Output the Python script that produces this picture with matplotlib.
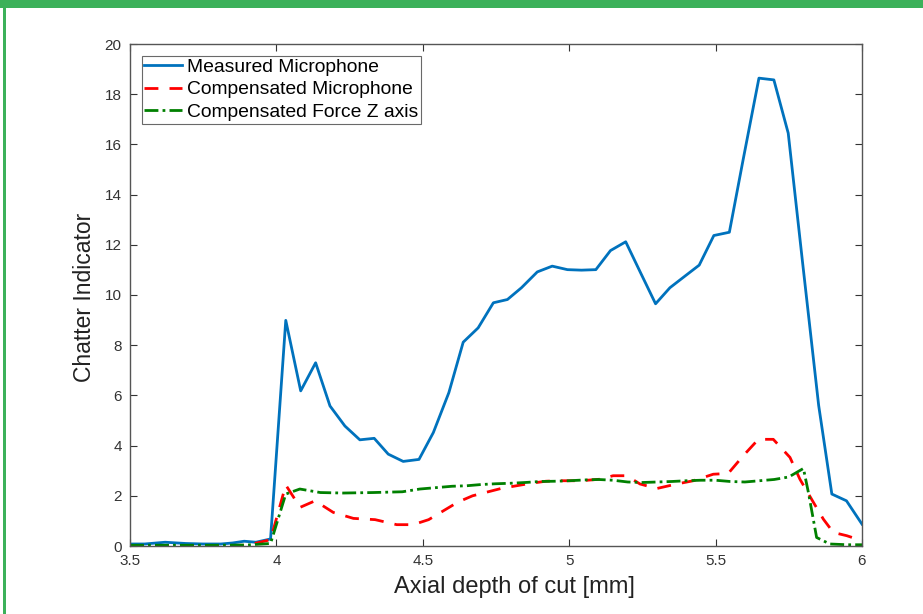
import matplotlib
matplotlib.use("Agg")
import matplotlib.pyplot as plt
from matplotlib.patches import Rectangle

plt.rcParams['font.family'] = ['Liberation Sans', 'DejaVu Sans']

# Measured microphone signal
x_meas = [3.50, 3.55, 3.62, 3.69, 3.75, 3.81, 3.85, 3.89, 3.93, 3.98,
          4.032, 4.083, 4.134, 4.183, 4.234, 4.285, 4.334, 4.382, 4.433, 4.487,
          4.536, 4.589, 4.638, 4.689, 4.741, 4.789, 4.837, 4.891, 4.942, 4.994,
          5.042, 5.091, 5.141, 5.193, 5.244, 5.295, 5.344, 5.395, 5.444, 5.494,
          5.547, 5.594, 5.648, 5.699, 5.748, 5.797, 5.852, 5.897, 5.947, 6.000]
y_meas = [0.08, 0.08, 0.15, 0.10, 0.08, 0.08, 0.12, 0.19, 0.15, 0.28,
          8.99, 6.18, 7.30, 5.58, 4.78, 4.23, 4.29, 3.66, 3.37, 3.45,
          4.52, 6.11, 8.12, 8.69, 9.69, 9.82, 10.29, 10.92, 11.15, 11.01,
          10.99, 11.01, 11.77, 12.12, 10.88, 9.65, 10.29, 10.75, 11.19, 12.37,
          12.50, 15.39, 18.64, 18.57, 16.45, 11.30, 5.60, 2.07, 1.80, 0.87]

# Compensated microphone signal
x_cmic = [3.50, 3.60, 3.70, 3.80, 3.90, 3.98,
          4.032, 4.081, 4.132, 4.194, 4.263, 4.337, 4.411, 4.467, 4.52, 4.57,
          4.62, 4.67, 4.72, 4.77, 4.82, 4.87, 4.92, 4.968, 5.04, 5.105,
          5.15, 5.196, 5.242, 5.299, 5.367, 5.424, 5.492, 5.543, 5.594, 5.646,
          5.697, 5.754, 5.788, 5.834, 5.868, 5.902, 5.948, 6.000]
y_cmic = [0.02, 0.02, 0.02, 0.02, 0.03, 0.25,
          2.43, 1.54, 1.80, 1.34, 1.10, 1.05, 0.85, 0.85, 1.05, 1.40,
          1.75, 2.00, 2.15, 2.30, 2.40, 2.50, 2.58, 2.60, 2.60, 2.66,
          2.80, 2.80, 2.47, 2.29, 2.47, 2.60, 2.86, 2.89, 3.59, 4.25,
          4.25, 3.53, 2.66, 1.74, 1.07, 0.54, 0.41, 0.21]

# Compensated force signal, Z axis
x_fz = [3.50, 3.60, 3.70, 3.80, 3.90, 3.98,
        4.032, 4.08, 4.15, 4.227, 4.33, 4.43, 4.49, 4.55, 4.60, 4.65,
        4.70, 4.75, 4.80, 4.85, 4.90, 4.95, 5.00, 5.05, 5.10, 5.15,
        5.20, 5.25, 5.30, 5.35, 5.40, 5.45, 5.50, 5.55, 5.60, 5.65,
        5.70, 5.75, 5.80, 5.817, 5.845, 5.89, 5.95, 6.00]
y_fz = [0.03, 0.03, 0.03, 0.03, 0.04, 0.10,
        2.07, 2.27, 2.13, 2.11, 2.13, 2.16, 2.27, 2.33, 2.38, 2.40,
        2.45, 2.48, 2.50, 2.53, 2.57, 2.58, 2.60, 2.63, 2.65, 2.62,
        2.55, 2.53, 2.55, 2.57, 2.60, 2.62, 2.62, 2.57, 2.55, 2.60,
        2.65, 2.75, 3.09, 2.13, 0.34, 0.08, 0.05, 0.05]

x_ticks = [3.5, 4, 4.5, 5, 5.5, 6]
x_tick_labels = ['3.5', '4', '4.5', '5', '5.5', '6']
y_ticks = list(range(0, 21, 2))

fig = plt.figure(figsize=(9.23, 6.14), dpi=100)
fig.patch.set_facecolor('white')

# green frame: top bar and thin left rule
fig.patches.append(Rectangle((0, 1 - 8 / 614), 1, 8 / 614, transform=fig.transFigure,
                             facecolor='#3cb15a', edgecolor='none', zorder=0))
fig.patches.append(Rectangle((3 / 923, 0), 3 / 923, 1, transform=fig.transFigure,
                             facecolor='#3cb15a', edgecolor='none', zorder=0))

ax = fig.add_axes([130 / 923, 1 - 546 / 614, 732 / 923, 502 / 614])

ax.plot(x_meas, y_meas, color='#0072bd', lw=2.0, label='Measured Microphone')
ax.plot(x_cmic, y_cmic, color='#ff0000', lw=2.0, ls=(0, (5, 4)), label='Compensated Microphone')
ax.plot(x_fz, y_fz, color='#008000', lw=2.0, ls=(0, (5, 1.5, 1, 1.5)), label='Compensated Force Z axis')

ax.set_xlim(3.5, 6)
ax.set_ylim(0, 20)
ax.set_xticks(x_ticks)
ax.set_xticklabels(x_tick_labels)
ax.set_yticks(y_ticks)

ax.tick_params(direction='in', top=True, right=True, length=5, width=0.8,
               colors='#333333', labelsize=11)
ax.tick_params(axis='x', pad=6)
ax.tick_params(axis='y', pad=6)
for s in ax.spines.values():
    s.set_color('#555555')
    s.set_linewidth(1.0)

ax.set_xlabel('Axial depth of cut [mm]', fontsize=17, color='#222222')
ax.xaxis.set_label_coords(0.5246, -0.06)
ax.set_ylabel('Chatter Indicator', fontsize=16.5, color='#222222')
ax.yaxis.set_label_coords(-0.046, 0.495)

leg = ax.legend(loc='upper left', fontsize=13.9, frameon=True, fancybox=False,
                borderpad=0.15, labelspacing=0.25, handlelength=1.95, handletextpad=0.25,
                borderaxespad=0.6)
leg.get_frame().set_edgecolor('#444444')
leg.get_frame().set_linewidth(0.8)

fig.savefig('out.png', dpi=100)
